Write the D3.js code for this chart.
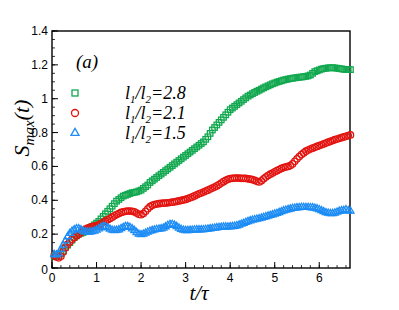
<!DOCTYPE html>
<html><head><meta charset="utf-8">
<script src="https://cdn.jsdelivr.net/npm/d3@7"></script>
<style>body{margin:0;background:#fff}svg{display:block}</style>
</head><body>
<script>
// sampling times t/tau
const tStart = 0.05, tStep = 0.05;
const green28 = [0.07,0.07,0.075,0.085,0.10,0.12,0.135,0.15,0.165,0.18,0.19,0.20,0.205,0.21,0.215,0.225,0.235,0.245,0.255,0.265,
0.275,0.29,0.305,0.32,0.335,0.35,0.365,0.38,0.395,0.405,0.415,0.425,0.43,0.435,0.44,0.445,0.447,0.45,0.455,0.46,
0.47,0.48,0.49,0.505,0.515,0.525,0.535,0.545,0.555,0.565,0.575,0.585,0.595,0.605,0.615,0.625,0.635,0.645,0.655,0.665,
0.675,0.685,0.695,0.705,0.715,0.725,0.735,0.745,0.76,0.775,0.795,0.815,0.83,0.845,0.86,0.875,0.89,0.905,0.92,0.935,
0.945,0.955,0.965,0.975,0.985,0.995,1.005,1.015,1.022,1.03,1.037,1.044,1.05,1.057,1.064,1.07,1.076,1.082,1.088,1.093,
1.098,1.102,1.106,1.11,1.113,1.116,1.119,1.121,1.123,1.125,1.127,1.128,1.13,1.132,1.135,1.14,1.15,1.16,1.165,1.17,
1.175,1.178,1.18,1.182,1.183,1.183,1.182,1.18,1.178,1.176,1.174,1.172,1.172,1.172];
const red21 = [0.075,0.065,0.06,0.07,0.095,0.12,0.14,0.155,0.17,0.18,0.19,0.20,0.21,0.22,0.23,0.235,0.24,0.245,0.248,0.25,
0.255,0.262,0.27,0.278,0.285,0.292,0.30,0.308,0.316,0.322,0.328,0.332,0.335,0.336,0.336,0.335,0.332,0.325,0.317,0.315,
0.322,0.335,0.35,0.362,0.37,0.375,0.378,0.38,0.382,0.383,0.384,0.385,0.387,0.389,0.391,0.393,0.396,0.399,0.402,0.405,
0.41,0.415,0.42,0.426,0.432,0.438,0.443,0.449,0.455,0.46,0.466,0.472,0.478,0.485,0.493,0.502,0.51,0.518,0.524,0.528,
0.53,0.531,0.531,0.531,0.53,0.53,0.529,0.527,0.525,0.522,0.518,0.512,0.508,0.515,0.527,0.537,0.546,0.554,0.561,0.568,
0.575,0.582,0.588,0.593,0.597,0.60,0.605,0.615,0.63,0.645,0.658,0.67,0.68,0.69,0.697,0.703,0.708,0.713,0.718,0.723,
0.728,0.733,0.738,0.743,0.748,0.753,0.758,0.762,0.766,0.77,0.774,0.778,0.782,0.786];
const blue15 = [0.08,0.078,0.085,0.11,0.135,0.16,0.185,0.205,0.218,0.226,0.232,0.232,0.226,0.218,0.214,0.212,0.213,0.215,0.218,0.224,
0.232,0.24,0.245,0.244,0.238,0.23,0.224,0.222,0.223,0.226,0.233,0.24,0.245,0.245,0.24,0.232,0.222,0.21,0.20,0.197,
0.20,0.206,0.212,0.218,0.222,0.225,0.228,0.23,0.232,0.236,0.244,0.252,0.258,0.258,0.253,0.245,0.236,0.228,0.224,0.222,
0.222,0.223,0.224,0.225,0.226,0.226,0.226,0.227,0.228,0.23,0.232,0.234,0.236,0.238,0.24,0.241,0.242,0.242,0.243,0.244,
0.245,0.247,0.25,0.254,0.259,0.264,0.27,0.275,0.279,0.283,0.286,0.289,0.292,0.295,0.299,0.303,0.307,0.311,0.315,0.319,
0.323,0.328,0.333,0.338,0.342,0.346,0.349,0.352,0.354,0.356,0.357,0.358,0.358,0.358,0.358,0.357,0.356,0.354,0.35,0.345,
0.339,0.333,0.327,0.324,0.322,0.322,0.325,0.33,0.335,0.338,0.34,0.345,0.338,0.336];
const xTicks = [0,1,2,3,4,5,6];
const yTicks = [0,0.2,0.4,0.6,0.8,1,1.2,1.4];
const yTickLabels = ["0","0.2","0.4","0.6","0.8","1","1.2","1.4"];
const legendLabels = ["2.8","2.1","1.5"];

const W = 399, H = 310;
const M = {left:52, top:31, right:350, bottom:268};
const svg = d3.select("body").append("svg").attr("width",W).attr("height",H);
const x = d3.scaleLinear().domain([0,6.69]).range([M.left,M.right]);
const y = d3.scaleLinear().domain([0,1.4]).range([M.bottom,M.top]);
const times = green28.map((_,i)=>tStart + i*tStep);

const colors = {g:"#12a84f", r:"#e3130f", b:"#1d8cf5"};

// frame
svg.append("rect").attr("x",M.left).attr("y",M.top).attr("width",M.right-M.left).attr("height",M.bottom-M.top)
  .attr("fill","none").attr("stroke","#000").attr("stroke-width",1.4);

// x axis ticks (inward)
const xMinor = d3.range(0,6.7,0.2);
svg.append("g").selectAll("line").data(xMinor).join("line")
  .attr("x1",d=>x(d)).attr("x2",d=>x(d)).attr("y1",M.bottom).attr("y2",M.bottom-3)
  .attr("stroke","#000").attr("stroke-width",0.8);
svg.append("g").selectAll("line").data(xTicks).join("line")
  .attr("x1",d=>x(d)).attr("x2",d=>x(d)).attr("y1",M.bottom).attr("y2",M.bottom-6)
  .attr("stroke","#000").attr("stroke-width",1);
svg.append("g").selectAll("text").data(xTicks).join("text")
  .attr("x",d=>x(d)).attr("y",M.bottom+14).attr("text-anchor","middle")
  .attr("font-family","Liberation Sans, Arial, sans-serif").attr("font-size",12).text(d=>d);

// y axis ticks
const yMinor = d3.range(0,1.401,0.05);
svg.append("g").selectAll("line").data(yMinor).join("line")
  .attr("x1",M.left).attr("x2",M.left+3).attr("y1",d=>y(d)).attr("y2",d=>y(d))
  .attr("stroke","#000").attr("stroke-width",0.8);
svg.append("g").selectAll("line").data(yTicks).join("line")
  .attr("x1",M.left).attr("x2",M.left+6).attr("y1",d=>y(d)).attr("y2",d=>y(d))
  .attr("stroke","#000").attr("stroke-width",1);
svg.append("g").selectAll("text").data(yTicks).join("text")
  .attr("x",M.left-4).attr("y",d=>y(d)+4 + (d===0?2:0)).attr("text-anchor","end")
  .attr("font-family","Liberation Sans, Arial, sans-serif").attr("font-size",12).text((d,i)=>yTickLabels[i]);

// axis titles
const yl = svg.append("text").attr("transform","translate(29,128) rotate(-90)").attr("text-anchor","middle")
  .attr("font-family","Liberation Serif, Times New Roman, serif").attr("font-style","italic").attr("font-size",22);
yl.append("tspan").text("S");
yl.append("tspan").attr("font-size",15).attr("dy",5).text("max");
yl.append("tspan").attr("dy",-5).text("(t)");
svg.append("text").attr("x",199).attr("y",300).attr("text-anchor","middle")
  .attr("font-family","Liberation Serif, Times New Roman, serif").attr("font-style","italic").attr("font-size",21)
  .text("t/τ");

// series
const g = svg.append("g");
function drawSquares(data,color){
  g.append("g").selectAll("rect").data(data).join("rect")
    .attr("x",(d,i)=>x(times[i])-2.75).attr("y",d=>y(d)-2.75).attr("width",5.5).attr("height",5.5)
    .attr("fill","none").attr("stroke",color).attr("stroke-width",1.3);
}
function drawCircles(data,color){
  g.append("g").selectAll("circle").data(data).join("circle")
    .attr("cx",(d,i)=>x(times[i])).attr("cy",d=>y(d)).attr("r",3.2)
    .attr("fill","none").attr("stroke",color).attr("stroke-width",1.3);
}
const tri = d3.symbol().type(d3.symbolTriangle).size(22);
function drawTriangles(data,color){
  g.append("g").selectAll("path").data(data).join("path")
    .attr("d",tri).attr("transform",(d,i)=>`translate(${x(times[i])},${y(d)})`)
    .attr("fill","none").attr("stroke",color).attr("stroke-width",1.3);
}
drawSquares(green28,colors.g);
drawCircles(red21,colors.r);
drawTriangles(blue15,colors.b);

// annotation
svg.append("text").attr("x",76).attr("y",68)
  .attr("font-family","Liberation Serif, Times New Roman, serif").attr("font-style","italic").attr("font-size",19).text("(a)");

// legend
const legY = [93,113,133];
const lg = svg.append("g");
lg.append("rect").attr("x",72).attr("y",legY[0]-3).attr("width",6).attr("height",6).attr("fill","none").attr("stroke",colors.g).attr("stroke-width",1.3);
lg.append("circle").attr("cx",75).attr("cy",legY[1]).attr("r",3.5).attr("fill","none").attr("stroke",colors.r).attr("stroke-width",1.3);
lg.append("path").attr("d",d3.symbol().type(d3.symbolTriangle).size(28)).attr("transform",`translate(75,${legY[2]})`).attr("fill","none").attr("stroke",colors.b).attr("stroke-width",1.3);
legendLabels.forEach((lab,i)=>{
  const t = lg.append("text").attr("x",125).attr("y",legY[i]+6)
    .attr("font-family","Liberation Serif, Times New Roman, serif").attr("font-style","italic").attr("font-size",18);
  t.append("tspan").text("l");
  t.append("tspan").attr("font-size",11).attr("dy",4).text("1");
  t.append("tspan").attr("dy",-4).text("/l");
  t.append("tspan").attr("font-size",11).attr("dy",4).text("2");
  t.append("tspan").attr("dy",-4).text("=" + lab);
});
</script>
</body></html>
